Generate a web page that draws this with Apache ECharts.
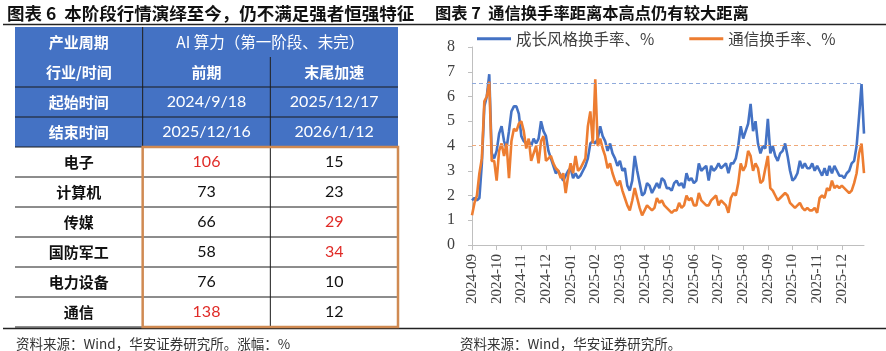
<!DOCTYPE html>
<html><head><meta charset="utf-8">
<script src="https://cdn.jsdelivr.net/npm/echarts@6/dist/echarts.min.js"></script>
<style>html,body{margin:0;padding:0;background:#fff}#c{width:886px;height:351px}</style>
</head><body><div id="c"></div>
<script>
// ---------- line chart data ----------
const tickLabels = ['2024-09','2024-10','2024-11','2024-12','2025-01','2025-02','2025-03','2025-04',
  '2025-05','2025-06','2025-07','2025-08','2025-09','2025-10','2025-11','2025-12'];
const pointsPerTick = 10;
const seriesNames = ['成长风格换手率、%', '通信换手率、%'];
const growthTurnover = [
  1.8,1.9,1.8,1.9,3.3,5.6,6.0,6.9,3.7,3.5,
  3.8,4.5,4.8,4.2,3.9,4.6,5.4,5.6,5.6,5.3,
  4.4,4.2,4.1,4.2,4.0,4.3,4.1,4.3,5.0,4.6,
  4.4,3.8,3.5,3.2,2.9,3.0,2.8,2.6,2.8,3.0,
  3.1,2.7,2.9,2.7,2.8,3.0,3.2,3.5,4.1,4.2,
  4.1,4.3,4.8,4.4,4.2,3.8,4.1,3.7,3.5,3.2,
  3.4,3.0,3.1,2.4,2.2,2.6,3.6,3.0,2.5,2.0,
  2.1,2.5,2.4,2.1,2.3,2.5,2.3,2.7,2.6,2.3,
  2.3,2.2,2.5,2.6,2.4,2.5,2.3,2.9,2.6,2.7,
  2.5,2.6,3.3,3.0,3.1,3.2,2.6,3.2,3.0,3.1,
  3.3,3.1,3.2,3.3,2.9,3.3,3.3,3.5,4.0,4.8,
  4.3,4.6,4.9,5.7,4.6,5.0,4.1,3.7,4.0,3.9,
  5.1,3.7,4.0,3.6,3.4,3.7,3.8,4.1,3.6,3.0,
  2.6,2.7,2.9,3.4,3.1,3.3,3.1,3.1,3.3,3.0,
  3.2,3.0,2.8,3.1,2.8,3.2,2.9,3.2,3.0,2.8,
  2.8,2.7,2.9,3.0,3.3,3.4,4.0,5.2,6.5,4.5
];
const commTurnover = [
  1.2,1.7,2.0,2.9,3.5,5.8,6.0,6.6,3.4,3.4,
  2.6,3.8,4.1,3.6,4.1,2.7,4.2,4.7,4.6,4.9,
  5.0,4.6,3.9,4.3,3.4,3.7,4.0,3.3,4.2,4.4,
  3.4,3.5,3.6,3.3,3.1,3.0,2.7,2.9,2.1,2.8,
  3.3,2.9,3.6,3.0,3.1,3.3,3.5,4.8,5.4,4.1,
  6.7,4.0,4.3,3.9,3.6,3.1,3.3,2.9,2.6,2.4,
  2.6,2.2,1.9,1.6,1.4,1.8,2.3,1.9,1.5,1.2,
  1.4,1.6,1.5,1.4,1.5,1.9,1.7,1.8,1.6,1.5,
  1.4,1.3,1.4,1.4,1.7,1.5,1.6,2.0,1.8,1.9,
  1.6,1.6,2.1,1.8,1.7,1.6,1.6,1.8,1.9,2.0,
  1.6,1.8,1.7,1.6,1.3,1.9,2.1,2.0,2.5,3.3,
  3.0,3.2,3.8,3.6,3.0,3.3,3.1,2.5,2.6,3.1,
  3.6,2.3,2.2,2.0,1.8,1.9,2.0,2.1,2.0,1.7,
  1.6,1.5,1.6,1.7,1.5,1.4,1.5,1.4,1.4,1.5,
  1.3,1.9,2.0,1.9,2.3,2.2,2.6,2.3,2.4,2.3,
  2.4,2.3,2.2,2.1,2.2,2.5,2.9,3.7,4.1,2.9
];
const refLevels = [6.55, 4.05];

// ---------- table data ----------
const headerRow1 = ['产业周期', 'AI 算力（第一阶段、未完）'];
const headerRow2 = ['行业/时间', '前期', '末尾加速'];
const startRow = ['起始时间', '2024/9/18', '2025/12/17'];
const endRow = ['结束时间', '2025/12/16', '2026/1/12'];
const industries = ['电子', '计算机', '传媒', '国防军工', '电力设备', '通信'];
const earlyGain = [106, 73, 66, 58, 76, 138];
const lateGain = [15, 23, 29, 34, 10, 12];

const BLUE = '#4472C4', ORANGE = '#ED7D31';
const CJK = '"Noto Sans CJK SC", "Noto Sans", sans-serif';
const LAT = 'Lato, "Liberation Sans", sans-serif';
const SERIF = '"Liberation Serif", "DejaVu Serif", serif';

function top2(arr){ const s = arr.slice().sort((a,b)=>b-a); return arr.map(v => v >= s[1]); }
const earlyRed = top2(earlyGain), lateRed = top2(lateGain);

const cells = [];
cells.push({c0:0,r0:0,c1:1,r1:1,text:headerRow1[0],kind:'hdr',right:true,bottom:false});
cells.push({c0:1,r0:0,c1:3,r1:1,text:headerRow1[1],kind:'hdrN',right:false,bottom:false});
headerRow2.forEach((t,j)=>cells.push({c0:j,r0:1,c1:j+1,r1:2,text:t,kind:'hdr',right:j<2,bottom:true}));
[startRow, endRow].forEach((row,k)=>row.forEach((t,j)=>cells.push({c0:j,r0:2+k,c1:j+1,r1:3+k,text:t,kind:j===0?'hdr':'hdrNum',right:j<2,bottom:true})));
industries.forEach((name,k)=>{
  const r = 4+k;
  cells.push({c0:0,r0:r,c1:1,r1:r+1,text:name,kind:'lbl',right:false,bottom:true});
  cells.push({c0:1,r0:r,c1:2,r1:r+1,text:String(earlyGain[k]),kind:'num',red:earlyRed[k],right:true,bottom:true});
  cells.push({c0:2,r0:r,c1:3,r1:r+1,text:String(lateGain[k]),kind:'num',red:lateRed[k],right:false,bottom:true});
});
cells.push({c0:1,r0:4,c1:3,r1:10,kind:'box'});

function renderCell(params, api){
  const cell = cells[params.dataIndex];
  const p0 = api.coord([api.value(0), api.value(1)]);
  const p1 = api.coord([api.value(2), api.value(3)]);
  const x = p0[0], y = p0[1], w = p1[0]-p0[0], h = p1[1]-p0[1];
  if (cell.kind === 'box') {
    return {type:'rect', z2:20, shape:{x:x, y:y, width:w, height:h}, style:{fill:null, stroke:'#D08A52', lineWidth:2.5}};
  }
  const hdr = cell.kind.indexOf('hdr') === 0;
  const ch = [];
  ch.push({type:'rect', z2:0, shape:{x:x, y:y, width:w, height:h}, style:{fill: hdr ? BLUE : '#fff'}});
  if (cell.right) ch.push({type:'line', z2:5, shape:{x1:x+w, y1:y, x2:x+w, y2:y+h}, style:{stroke:'#1a1a1a', lineWidth:1}});
  if (cell.bottom) ch.push({type:'line', z2:5, shape:{x1:x, y1:y+h, x2:x+w, y2:y+h}, style:{stroke:'#1a1a1a', lineWidth:1}});
  let fill = '#111', ff = CJK, fw = 'bold', fs = 15;
  if (hdr) fill = '#fff';
  if (cell.kind === 'hdrN') { fw = 'normal'; fs = 15.5; }
  if (cell.kind === 'hdrNum' || cell.kind === 'num') { ff = LAT; fw = 'normal'; fs = 16; }
  if (cell.red) fill = '#E02B27';
  ch.push({type:'text', z2:6, style:{text:cell.text, x:x+w/2, y:y+h/2, align:'center', verticalAlign:'middle', fill:fill, fontFamily:ff, fontWeight:fw, fontSize:fs}});
  return {type:'group', children:ch};
}

const categories = growthTurnover.map((v,i)=>String(i));
const showTick = (idx) => idx % pointsPerTick === 0;

const chart = echarts.init(document.getElementById('c'), null, {renderer:'canvas'});
chart.setOption({
  animation: false,
  backgroundColor: '#fff',
  title: [
    {text:'图表 6  本阶段行情演绎至今，仍不满足强者恒强特征', left:7, top:5, padding:0, textStyle:{fontFamily:CJK, fontWeight:'bold', fontSize:17.5, color:'#111'}},
    {text:'图表 7  通信换手率距离本高点仍有较大距离', left:435, top:5, padding:0, textStyle:{fontFamily:CJK, fontWeight:'bold', fontSize:16.3, color:'#111'}},
    {text:'资料来源：Wind，华安证券研究所。涨幅：%', left:16, top:337, padding:0, textStyle:{fontFamily:CJK, fontWeight:'normal', fontSize:13.5, color:'#333'}},
    {text:'资料来源：Wind，华安证券研究所。', left:460, top:337, padding:0, textStyle:{fontFamily:CJK, fontWeight:'normal', fontSize:13.5, color:'#333'}}
  ],
  graphic: [
    {type:'line', shape:{x1:3, y1:24.5, x2:886, y2:24.5}, style:{stroke:'#222', lineWidth:1.5}},
    {type:'line', shape:{x1:3, y1:328.5, x2:886, y2:328.5}, style:{stroke:'#222', lineWidth:1.5}}
  ],
  legend: {
    left: 472, top: 26, itemGap: 35, itemWidth: 34, itemHeight: 3, icon: 'rect',
    textStyle: {fontFamily: CJK, fontSize: 15.5, color: '#404040'},
    data: seriesNames
  },
  grid: [
    {left: 472, right: 22, top: 47, bottom: 106},
    {left: 15, top: 27, width: 383, height: 300}
  ],
  xAxis: [
    {
      gridIndex: 0, type: 'category', data: categories, boundaryGap: false,
      axisLine: {lineStyle: {color: '#bfbfbf', width: 1}},
      axisTick: {show: true, interval: showTick, length: 5, lineStyle: {color: '#bfbfbf'}},
      axisLabel: {interval: showTick, rotate: 90, margin: 9,
        formatter: (v, idx) => (idx % pointsPerTick === 0 ? (tickLabels[idx / pointsPerTick] || '') : ''),
        fontFamily: SERIF, fontSize: 15, color: '#404040'},
      splitLine: {show: false}
    },
    {gridIndex: 1, type: 'value', min: 0, max: 3, show: false}
  ],
  yAxis: [
    {
      gridIndex: 0, type: 'value', min: 0, max: 8, interval: 1,
      axisLine: {show: true, lineStyle: {color: '#bfbfbf'}},
      axisTick: {show: true, length: 4, lineStyle: {color: '#bfbfbf'}},
      axisLabel: {margin: 17, fontFamily: SERIF, fontSize: 16, color: '#404040'},
      splitLine: {show: false}
    },
    {gridIndex: 1, type: 'value', min: 0, max: 10, inverse: true, show: false}
  ],
  series: [
    {
      name: seriesNames[0], type: 'line', data: growthTurnover, xAxisIndex: 0, yAxisIndex: 0,
      symbol: 'none', lineStyle: {color: BLUE, width: 2.6}, itemStyle: {color: BLUE},
      markLine: {silent: true, symbol: 'none', label: {show: false},
        lineStyle: {type: [4, 3], color: '#8FAADC', width: 1.2}, data: [{yAxis: refLevels[0]}]}
    },
    {
      name: seriesNames[1], type: 'line', data: commTurnover, xAxisIndex: 0, yAxisIndex: 0,
      symbol: 'none', lineStyle: {color: ORANGE, width: 2.6}, itemStyle: {color: ORANGE},
      markLine: {silent: true, symbol: 'none', label: {show: false},
        lineStyle: {type: [4, 3], color: '#F0A878', width: 1.2}, data: [{yAxis: refLevels[1]}]}
    },
    {
      type: 'custom', xAxisIndex: 1, yAxisIndex: 1, renderItem: renderCell, silent: true,
      encode: {x: [0, 2], y: [1, 3]},
      data: cells.map(c => [c.c0, c.r0, c.c1, c.r1])
    }
  ]
});
</script></body></html>
